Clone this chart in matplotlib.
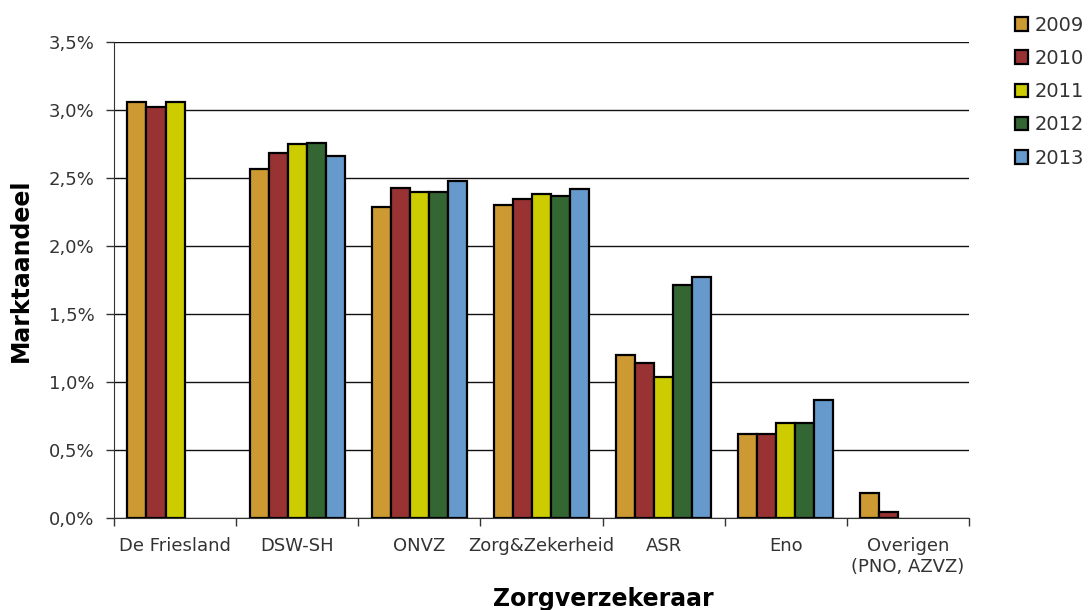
import numpy as np
import matplotlib.pyplot as plt
from matplotlib.patches import Patch

# Market share per insurer, per year (nan = no data)
insurers = ["De Friesland", "DSW-SH", "ONVZ", "Zorg&Zekerheid", "ASR", "Eno", "Overigen\n(PNO, AZVZ)"]
years = ["2009", "2010", "2011", "2012", "2013"]
share_2009 = [3.06, 2.565, 2.29, 2.30, 1.20, 0.62, 0.185]
share_2010 = [3.02, 2.685, 2.43, 2.345, 1.14, 0.62, 0.042]
share_2011 = [3.06, 2.75, 2.40, 2.385, 1.04, 0.695, np.nan]
share_2012 = [np.nan, 2.76, 2.40, 2.37, 1.715, 0.695, np.nan]
share_2013 = [np.nan, 2.66, 2.48, 2.42, 1.77, 0.865, np.nan]
colors = ["#CC9933", "#993333", "#CCCC00", "#336633", "#6699CC"]

series = [share_2009, share_2010, share_2011, share_2012, share_2013]

fig = plt.figure(figsize=(10.91, 6.10), dpi=100)
ax = fig.add_axes([114/1091, 1 - 518/610, (969 - 114)/1091, (518 - 42)/610])

x = np.arange(len(insurers))
w = 0.156
for i, (vals, c) in enumerate(zip(series, colors)):
    ax.bar(x + (i - 2) * w, vals, w, color=c, edgecolor="black", linewidth=1.6, zorder=3)

ax.set_xlim(-0.5, len(insurers) - 0.5)
ax.set_ylim(0, 3.5)
ax.set_yticks(np.arange(0, 3.51, 0.5))
ax.set_yticklabels([f"{v:.1f}%".replace(".", ",") for v in np.arange(0, 3.51, 0.5)])
ax.yaxis.grid(True, color="#111111", linewidth=1.0, zorder=0)

ax.set_xticks(x)
ax.set_xticklabels(insurers)
ax.set_xticks(np.arange(-0.5, len(insurers)), minor=True)
ax.tick_params(axis="x", which="major", length=0, pad=14, labelsize=13, labelcolor="#333333")
ax.tick_params(axis="x", which="minor", length=6, width=1, color="#333333")
ax.tick_params(axis="y", length=6, width=1, pad=8, labelsize=13, labelcolor="#333333", color="#333333")

for s in ["top", "right"]:
    ax.spines[s].set_visible(False)
ax.spines["left"].set_color("#333333")
ax.spines["bottom"].set_color("#333333")

ax.set_ylabel("Marktaandeel", fontsize=17, fontweight="bold")
ax.yaxis.set_label_coords(-0.0945, 0.52)
ax.set_xlabel("Zorgverzekeraar", fontsize=17, fontweight="bold")
ax.xaxis.set_label_coords(0.572, -0.145)

handles = [Patch(facecolor=c, edgecolor="black", linewidth=1.6) for c in colors]
fig.legend(handles, years, loc="upper left", bbox_to_anchor=(1007/1091, 1 - 8/610),
           frameon=False, fontsize=14, handlelength=0.7, handleheight=0.7,
           handletextpad=0.3, labelspacing=0.73, labelcolor="#333333", borderaxespad=0)

fig.savefig("out.png", dpi=100)
